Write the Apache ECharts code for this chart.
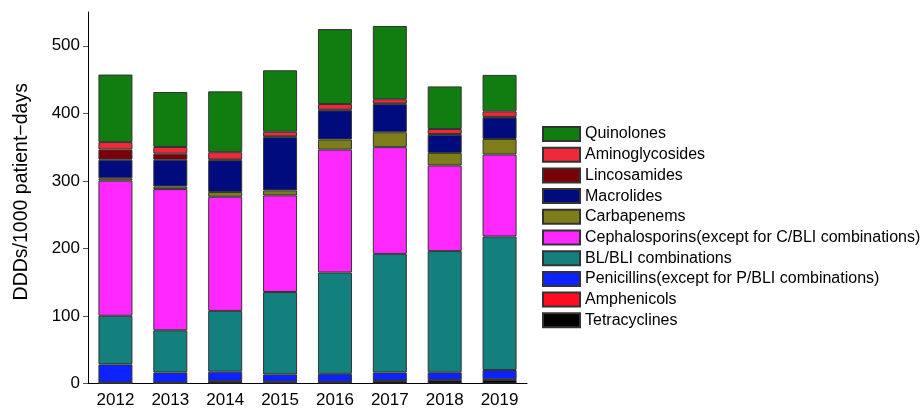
<!DOCTYPE html>
<html><head><meta charset="utf-8">
<script src="https://cdn.jsdelivr.net/npm/echarts@6/dist/echarts.min.js"></script>
<style>html,body{margin:0;padding:0;background:#fff}#c{width:922px;height:413px}</style>
</head><body><div id="c"></div>
<script>
const years = ['2012','2013','2014','2015','2016','2017','2018','2019'];
const yTicks = [0,100,200,300,400,500];
const Tetracyclines   = [1, 1, 3, 2, 2, 4, 4.5, 5.5];
const Amphenicols     = [0.3, 0.3, 0.5, 0.5, 0.3, 0.3, 0.5, 0.7];
const Penicillins     = [27, 15, 14, 11, 12, 12, 11.5, 13.8];
const BLBLI           = [72, 62.5, 90, 122, 150, 175.6, 179.5, 197.7];
const Cephalosporins  = [200, 209, 169, 143, 182, 158, 126.8, 121.3];
const Carbapenems     = [3.5, 4, 7, 7.4, 15, 22, 18.6, 23];
const Macrolides      = [27.6, 39.4, 47, 78.8, 43, 41.6, 27, 31.7];
const Lincosamides    = [15, 9, 1, 1, 1, 1, 1, 1];
const Aminoglycosides = [11, 10, 11, 7, 8.5, 6.4, 7.4, 8.2];
const Quinolones      = [100, 81.4, 90, 91, 111, 108.4, 63, 54];

const seriesDefs = [
  ['Tetracyclines', Tetracyclines, '#000000'],
  ['Amphenicols', Amphenicols, '#ff0e1f'],
  ['Penicillins(except for P/BLI combinations)', Penicillins, '#0c22ff'],
  ['BL/BLI combinations', BLBLI, '#14807e'],
  ['Cephalosporins(except for C/BLI combinations)', Cephalosporins, '#ff29ff'],
  ['Carbapenems', Carbapenems, '#7d7d1a'],
  ['Macrolides', Macrolides, '#000b7d'],
  ['Lincosamides', Lincosamides, '#7b0008'],
  ['Aminoglycosides', Aminoglycosides, '#ee2a3a'],
  ['Quinolones', Quinolones, '#117d11']
];

const chart = echarts.init(document.getElementById('c'), null, {renderer:'canvas'});
const font = 'Liberation Sans, Arial, sans-serif';
chart.setOption({
  animation: false,
  textStyle: {fontFamily: font},
  grid: {left: 88, right: 395, top: 12, bottom: 29.5},
  legend: {
    orient: 'vertical', left: 542, top: 126, padding: 0,
    icon: 'rect',
    itemWidth: 37, itemHeight: 14, itemGap: 4.7,
    data: seriesDefs.map(s => s[0]).reverse(),
    textStyle: {fontFamily: font, fontSize: 16, lineHeight: 16, color: '#000'}
  },
  xAxis: {
    type: 'category', data: years,
    axisLine: {lineStyle: {color: '#000', width: 1}},
    axisTick: {alignWithLabel: true, length: 5, lineStyle: {color: '#555'}},
    axisLabel: {fontSize: 17, color: '#000', margin: 8, fontFamily: font}
  },
  yAxis: {
    type: 'value', min: 0, max: 550, interval: 50,
    name: 'DDDs/1000 patient\u2212days', nameLocation: 'middle', nameGap: 56,
    nameTextStyle: {fontSize: 19.5, color: '#000', fontFamily: font, padding: [0, 0, 0, 12]},
    splitLine: {show: false},
    axisLine: {show: true, lineStyle: {color: '#000', width: 1}},
    axisTick: {show: true, length: 5, lineStyle: {color: '#555'}, customValues: yTicks},
    axisLabel: {fontSize: 17, color: '#000', margin: 8, fontFamily: font, customValues: yTicks}
  },
  series: seriesDefs.map(([name, data, color]) => ({
    name, type: 'bar', stack: 'total', data, barWidth: 34,
    itemStyle: {color, borderColor: '#333', borderWidth: 1},
    emphasis: {disabled: true}
  }))
});
</script></body></html>
